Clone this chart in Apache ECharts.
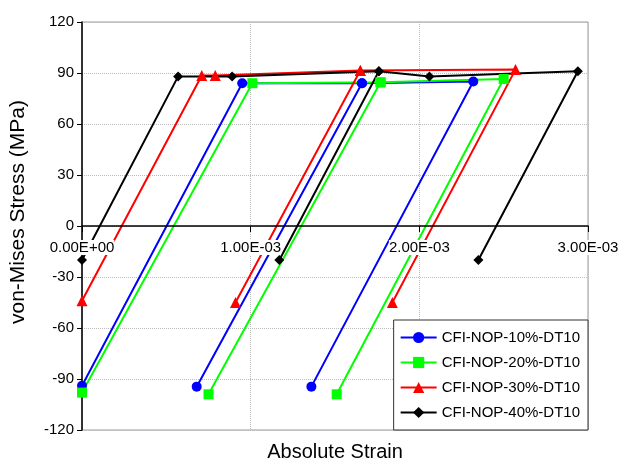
<!DOCTYPE html>
<meta charset="utf-8">
<style>
html, body { margin: 0; padding: 0; background: #fff; }
#main { width: 626px; height: 459px; }
</style>
<div id="main"></div>
<script src="https://cdn.jsdelivr.net/npm/echarts@6/dist/echarts.min.js"></script>
<script>

// values, strain then stress (MPa)
var names = ['CFI-NOP-10%-DT10', 'CFI-NOP-20%-DT10', 'CFI-NOP-30%-DT10', 'CFI-NOP-40%-DT10'];

var strain10 = [0, 0.95e-3, 1.66e-3, 0.68e-3, 1.66e-3, 2.32e-3, 1.36e-3];
var stress10 = [-94, 84, 84, -94.5, 84, 85, -94.5];

var strain20 = [0, 1.01e-3, 1.77e-3, 0.75e-3, 1.77e-3, 2.50e-3, 1.51e-3];
var stress20 = [-98, 84, 84.5, -99, 84.5, 86.5, -99];

var strain30 = [0, 0.71e-3, 0.79e-3, 1.65e-3, 0.91e-3, 1.65e-3, 2.57e-3, 1.84e-3];
var stress30 = [-44, 88.5, 88.5, 91.5, -45, 91.5, 92, -45];

var strain40 = [0, 0.57e-3, 0.89e-3, 1.76e-3, 1.17e-3, 1.76e-3, 2.06e-3, 2.94e-3, 2.35e-3];
var stress40 = [-20, 88, 88, 91, -20, 91, 88, 91, -20];

var colors = ['#0000ff', '#00ff00', '#ff0000', '#000000'];
var symbols = ['circle', 'rect', 'triangle', 'diamond'];

function pairs(xs, ys) {
    return xs.map(function (x, i) { return [x, ys[i]]; });
}

function sci(v) {
    if (v === 0) return '0.00E+00';
    var e = Math.floor(Math.log10(Math.abs(v)) + 1e-9);
    var m = v / Math.pow(10, e);
    var s = Math.abs(e) < 10 ? '0' + Math.abs(e) : '' + Math.abs(e);
    return m.toFixed(2) + 'E' + (e < 0 ? '-' : '+') + s;
}

var seriesData = [
    pairs(strain10, stress10),
    pairs(strain20, stress20),
    pairs(strain30, stress30),
    pairs(strain40, stress40)
];

var font = 'Liberation Sans, Arial, sans-serif';
var gridLine = { show: true, lineStyle: { type: 'dotted', color: '#bbb' } };

var chart = echarts.init(document.getElementById('main'));

chart.setOption({
    animation: false,
    textStyle: { fontFamily: font },
    grid: {
        left: 82, right: 38, top: 22, bottom: 29,
        show: true, borderColor: '#999', borderWidth: 1
    },
    legend: {
        orient: 'vertical',
        right: 38, bottom: 29,
        itemWidth: 36, itemHeight: 14, itemGap: 10,
        padding: [10, 8, 10, 6],
        borderColor: '#333', borderWidth: 1,
        backgroundColor: '#fff',
        textStyle: { fontSize: 15, color: '#000', fontFamily: font },
        data: names
    },
    graphic: [{
        type: 'text', x: 335, y: 452,
        style: {
            text: 'Absolute Strain', fill: '#000', font: '20px ' + font,
            align: 'center', verticalAlign: 'middle'
        }
    }, {
        type: 'text', x: 18, y: 212, rotation: Math.PI / 2,
        style: {
            text: 'von-Mises Stress (MPa)', fill: '#000', font: '21px ' + font,
            align: 'center', verticalAlign: 'middle'
        }
    }],
    xAxis: [{
        // grid lines only, under the series
        type: 'value', min: 0, max: 0.003, interval: 0.001,
        axisLine: { show: false }, axisTick: { show: false },
        axisLabel: { show: false },
        splitLine: gridLine
    }, {
        // the axis through zero, drawn over the series so labels mask lines
        type: 'value', min: 0, max: 0.003, interval: 0.001,
        position: 'bottom', offset: -204, zlevel: 1,
        axisLine: { onZero: false, lineStyle: { color: '#000', width: 1.5 } },
        axisTick: { show: true, length: 6, lineStyle: { color: '#000' } },
        axisLabel: {
            formatter: sci, fontSize: 15, color: '#000', margin: 14,
            backgroundColor: '#fff', showMinLabel: true, showMaxLabel: true
        },
        splitLine: { show: false }
    }],
    yAxis: {
        type: 'value', min: -120, max: 120, interval: 30,
        axisLine: { show: true, lineStyle: { color: '#000', width: 1.5 } },
        axisTick: { show: true, length: 5, lineStyle: { color: '#000' } },
        axisLabel: { fontSize: 15, color: '#000', margin: 8 },
        splitLine: gridLine
    },
    series: seriesData.map(function (d, i) {
        return {
            name: names[i],
            type: 'line',
            data: d,
            symbol: symbols[i],
            symbolSize: i === 2 ? 11 : 10,
            showAllSymbol: true,
            color: colors[i],
            lineStyle: { width: 2, color: colors[i] },
            itemStyle: { color: colors[i] }
        };
    })
});

</script>
